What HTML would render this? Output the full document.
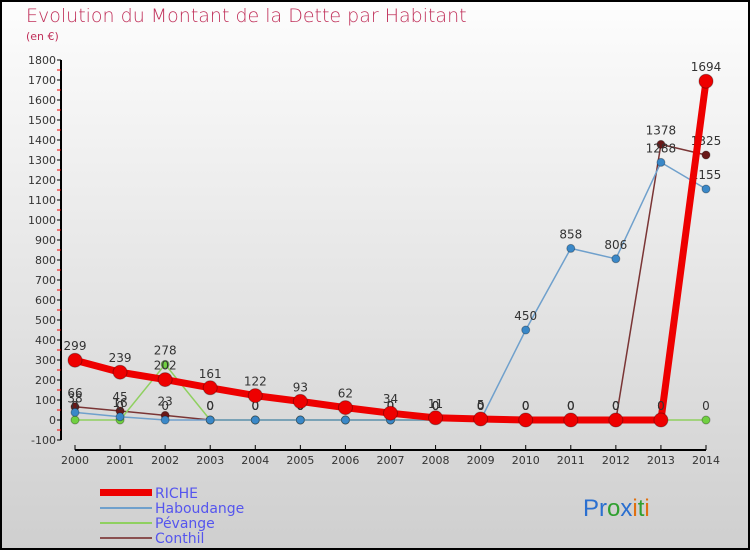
<!DOCTYPE html>
<html><head><meta charset="utf-8"><style>
body{margin:0;width:750px;height:550px;overflow:hidden;font-family:"DejaVu Sans","Liberation Sans",sans-serif}
</style></head><body>
<svg id="c" width="750" height="550" xmlns="http://www.w3.org/2000/svg">
<defs><linearGradient id="bg" x1="0" y1="0" x2="0" y2="1"><stop offset="0" stop-color="#fdfdfd"/><stop offset="1" stop-color="#cfcfcf"/></linearGradient></defs>
<rect x="1" y="1" width="748" height="548" fill="url(#bg)" stroke="#000" stroke-width="2"/>
<text x="26" y="22" font-size="19" fill="#c0305a" font-weight="300">Evolution du Montant de la Dette par Habitant</text>
<text x="26" y="40" font-size="11" fill="#c0305a">(en €)</text>
<g id="axes"></g><g id="series"></g>
<g font-size="14" fill="#5555ee">
<rect x="100" y="489" width="52" height="7" fill="#e00"/><text x="155" y="498" fill="#5555ee">RICHE</text>
<line x1="100" y1="508" x2="152" y2="508" stroke="#6fa0cc" stroke-width="2"/><text x="155" y="513" fill="#5555ee">Haboudange</text>
<line x1="100" y1="523" x2="152" y2="523" stroke="#8fd060" stroke-width="2"/><text x="155" y="528" fill="#5555ee">Pévange</text>
<line x1="100" y1="538" x2="152" y2="538" stroke="#8a5050" stroke-width="2"/><text x="155" y="543" fill="#5555ee">Conthil</text>
</g>
<text x="583" y="516" font-size="24" font-family="Liberation Sans"><tspan fill="#2a6fd0">Pr</tspan><tspan fill="#30a030">o</tspan><tspan fill="#2a6fd0">x</tspan><tspan fill="#e07010">i</tspan><tspan fill="#30a030">t</tspan><tspan fill="#e07010">i</tspan></text>
</svg>
<script>
const years=[2000,2001,2002,2003,2004,2005,2006,2007,2008,2009,2010,2011,2012,2013,2014];
const yTicks=[-100,0,100,200,300,400,500,600,700,800,900,1000,1100,1200,1300,1400,1500,1600,1700,1800];
const riche=[299,239,202,161,122,93,62,34,11,5,0,0,0,0,1694];
const haboudange=[38,16,0,0,0,0,0,0,0,0,450,858,806,1288,1155];
const pevange=[0,0,278,0,0,0,0,0,0,0,0,0,0,0,0];
const conthil=[66,45,23,0,0,0,0,0,0,0,0,0,0,1378,1325];
const NS="http://www.w3.org/2000/svg";
const X=i=>75+i*(706-75)/(years.length-1);
const Y=v=>420-v*0.2;
function mk(t,a,p){const e=document.createElementNS(NS,t);for(const k in a)e.setAttribute(k,a[k]);(p||document.getElementById('series')).appendChild(e);return e;}
const ax=document.getElementById('axes');
const yl=mk('line',{x1:61,y1:Y(1800),x2:61,y2:Y(-100),stroke:'#000','stroke-width':2},ax);


yTicks.forEach(v=>{
 mk('line',{x1:57,y1:Y(v),x2:61,y2:Y(v),stroke:'#000'},ax);
 if(v<1800)mk('line',{x1:57,y1:Y(v+50),x2:61,y2:Y(v+50),stroke:'#e00'},ax);
 const t=mk('text',{x:56,y:Y(v)+4,'font-size':11,fill:'#333','text-anchor':'end'},ax);t.textContent=v;
 
 
});
const xl=mk('line',{x1:X(0),y1:450,x2:X(14),y2:450,stroke:'#000','stroke-width':2},ax);


years.forEach((y,i)=>{
 mk('line',{x1:X(i),y1:445,x2:X(i),y2:450,stroke:'#000'},ax);
 const t=mk('text',{x:X(i),y:464,'font-size':11,fill:'#333','text-anchor':'middle'},ax);t.textContent=y;
 
 
});
function series(name,data,color,w,r,mc,lbl){
 const g=mk('g',{});
 
 
 mk('polyline',{points:data.map((v,i)=>X(i)+','+Y(v)).join(' '),fill:'none',stroke:color,'stroke-width':w,'stroke-linejoin':'round'},g);
 data.forEach((v,i)=>{
  const c=mk('circle',{cx:X(i),cy:Y(v),r:r,fill:mc,stroke:'rgba(0,0,0,0.3)','stroke-width':1},g);
  
  
  if(lbl){const t=mk('text',{x:X(i),y:Y(v)-10,'font-size':12,fill:'#333','text-anchor':'middle'},g);t.textContent=v;}
 });
}
series('conthil',conthil,'#7a3535',1.5,4,'#6a1818',true);
series('pevange',pevange,'#8fd060',1.5,4,'#70d040',true);
series('haboudange',haboudange,'#6fa0cc',1.5,4,'#3a88c8',true);
series('riche',riche,'#ee0000',7,7,'#ee0000',true);
</script>
</body></html>
